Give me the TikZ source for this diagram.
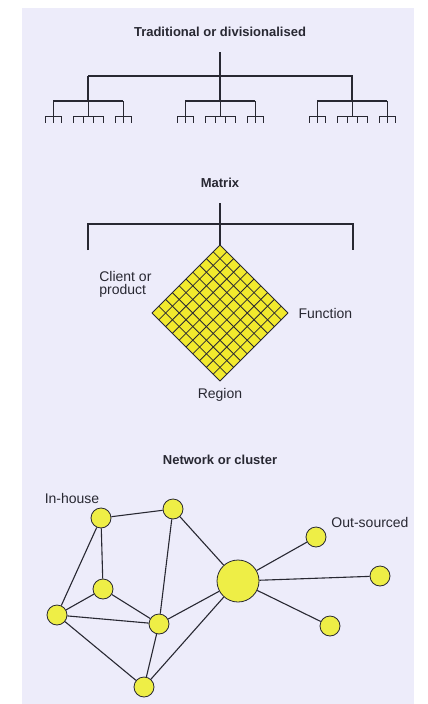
\documentclass[tikz,border=0pt]{standalone}
\usepackage{fontspec}
\setmainfont{Liberation Sans}
\usepackage{tikz}
\usetikzlibrary{calc}
\definecolor{panel}{RGB}{237,236,250}
\definecolor{cellyellow}{RGB}{242,234,45}
\definecolor{nodeyellow}{RGB}{238,238,70}
\definecolor{ink}{RGB}{40,40,50}

\begin{document}
\begin{tikzpicture}[x=1pt,y=-1pt,
  heading/.style={font=\fontsize{13}{15}\selectfont\bfseries,text=ink},
  tag/.style={font=\fontsize{14}{16}\selectfont,text=ink},
  link/.style={draw=ink,line width=1.1pt},
  twig/.style={draw=ink,line width=0.8pt},
  unit/.style={circle,draw=ink,line width=0.8pt,fill=nodeyellow,minimum size=20pt,inner sep=0pt},
  hub/.style={unit,minimum size=42pt}]
\useasboundingbox (0,0) rectangle (428,704);
\fill[white] (0,0) rectangle (428,704);
\fill[panel] (22,8) rectangle (414,704);

% traditional tree
\node[heading] (trad) at (220,32) {Traditional or divisionalised};
\coordinate (ttop) at (220,52);
\coordinate (tbar) at (220,76);
\draw[link] (ttop) -- (tbar);
\draw[link] (88,76) -- (353,76);
\foreach \c in {88,220,352} {
  \draw[link] (\c,76) -- (\c,101) (\c-35,101) -- (\c+35,101);
  \foreach \o/\w/\n in {-35/8/2, 0/15/3, 35/8/2} {
    \draw[twig] (\c+\o,101) -- (\c+\o,116) (\c+\o-\w,116) -- (\c+\o+\w,116);
    \foreach \k in {0,...,\n}
      \draw[twig] (\c+\o-\w+\k*2*\w/\n,116) -- (\c+\o-\w+\k*2*\w/\n,123);
  }
}

% matrix
\node[heading] (mtx) at (220,183) {Matrix};
\coordinate (mtop) at (220,203);
\coordinate (T) at (220,245);
\coordinate (L) at (152,313);
\coordinate (B) at (220,381);
\coordinate (R) at (288,313);
\draw[link] (mtop) -- (T);
\draw[link] (88,250) -- (88,224) -- (353,224) -- (353,250);
\fill[cellyellow] (T) -- (R) -- (B) -- (L) -- cycle;
\foreach \i in {0,...,10} {
  \draw[twig] ($(T)!\i/10!(L)$) -- ($(R)!\i/10!(B)$);
  \draw[twig] ($(T)!\i/10!(R)$) -- ($(L)!\i/10!(B)$);
}
\node[tag,align=left,anchor=east] (client) at (155,284) {Client or\\[-3pt]product};
\node[tag,anchor=west] (func) at (295,313) {Function};
\node[tag] (region) at (220,395) {Region};

% network
\node[heading] (net) at (220,460) {Network or cluster};
\node[tag] (inhouse) at (72,498) {In-house};
\node[tag] (outsrc) at (370,522) {Out-sourced};
\node[unit] (a) at (101,518) {};
\node[unit] (b) at (173,509) {};
\node[unit] (c) at (103,589) {};
\node[unit] (d) at (57,615) {};
\node[unit] (e) at (159,624) {};
\node[unit] (f) at (144,687) {};
\node[hub] (h) at (238,581) {};
\node[unit] (o1) at (316,537) {};
\node[unit] (o2) at (380,576) {};
\node[unit] (o3) at (330,626) {};
\foreach \p/\q in {a/b, a/c, a/d, b/e, b/h, c/d, c/e, d/e, d/f, e/f, e/h, f/h, h/o1, h/o2, h/o3}
  \draw[link] (\p) -- (\q);
\end{tikzpicture}
\end{document}
